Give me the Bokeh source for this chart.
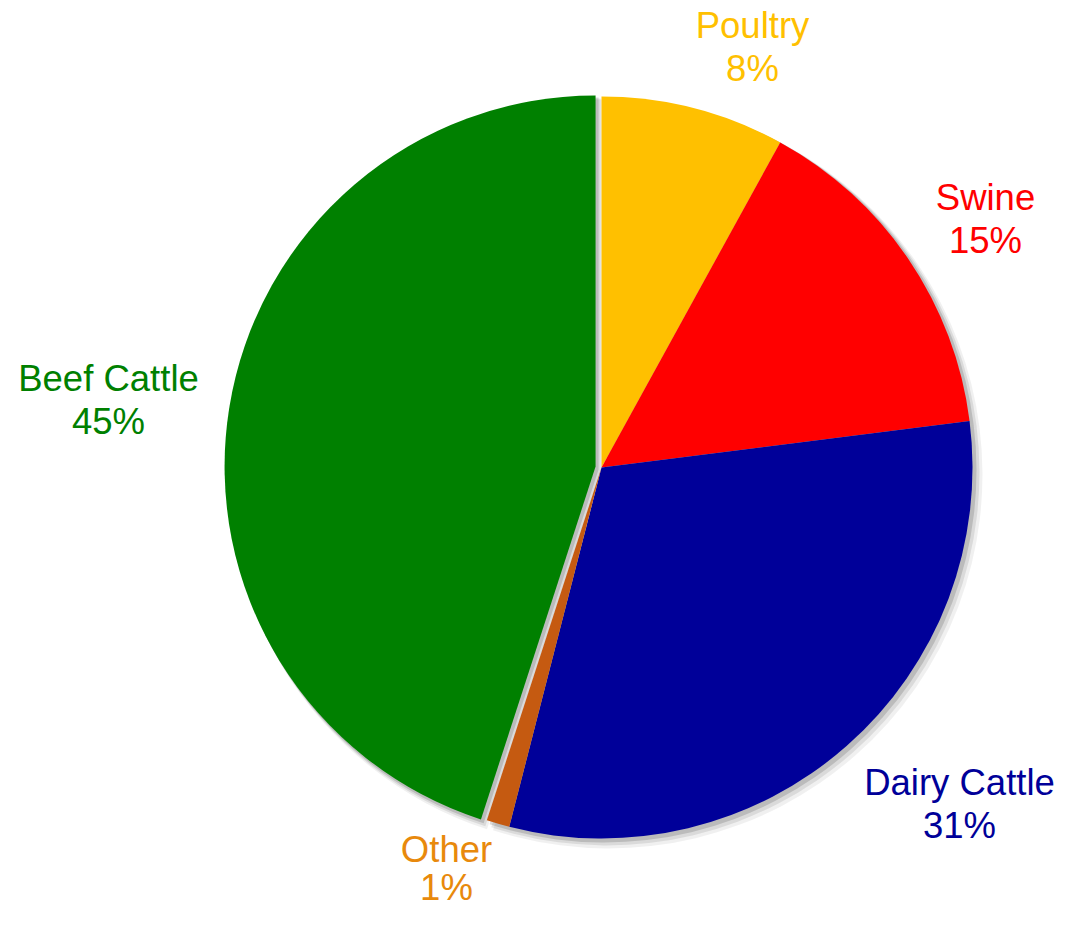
import numpy as np
from bokeh.plotting import figure
from bokeh.models import Range1d, ColumnDataSource
from bokeh.core.properties import value
from bokeh.embed import file_html
from bokeh.resources import INLINE

# ---- data ----
categories = ["Poultry", "Swine", "Dairy Cattle", "Other", "Beef Cattle"]
shares = [8, 15, 31, 1, 45]
pct_labels = ["8%", "15%", "31%", "1%", "45%"]
slice_colors = ["#FFC000", "#FF0000", "#000099", "#C55A11", "#008000"]
text_colors = ["#FFC000", "#FF0000", "#000099", "#E8890C", "#008000"]
exploded = [0, 0, 0, 0, 1]

# ---- layout (screen-like coordinates, y measured upward) ----
W, H = 1060, 911
def sy(y):  # screen y -> data y
    return H - y

cx, cy = 601, sy(467)
R = 371
explode_dist = 6
label_pos = [(752, 25), (985, 197), (959, 782), (446, 849), (108, 378)]
line_gaps = [43, 43, 43, 38, 43]

p = figure(width=W, height=H, output_backend="svg", toolbar_location=None,
           x_range=Range1d(0, W), y_range=Range1d(0, H),
           min_border=0, outline_line_color=None)
p.axis.visible = False
p.grid.visible = False
p.background_fill_color = "white"
p.border_fill_color = "white"

vals = np.array(shares, dtype=float)
frac = vals / vals.sum()
cum = np.concatenate([[0], np.cumsum(frac)])
start = np.pi / 2 - 2 * np.pi * cum[:-1]
end = np.pi / 2 - 2 * np.pi * cum[1:]
mid = (start + end) / 2
xs = cx + explode_dist * np.array(exploded) * np.cos(mid)
ys = cy + explode_dist * np.array(exploded) * np.sin(mid)

src = ColumnDataSource(dict(x=xs, y=ys, start=start, end=end, color=slice_colors))

# soft shadow
for k, (off, a) in enumerate([(7, 0.06), (5, 0.09), (3, 0.14)]):
    sh = ColumnDataSource(dict(x=xs + off, y=ys - off, start=start, end=end))
    p.wedge(x="x", y="y", radius=R + (3 - k), start_angle="start", end_angle="end",
            direction="clock", source=sh, fill_color="black", fill_alpha=a,
            line_color=None, radius_units="screen")

p.wedge(x="x", y="y", radius=R, start_angle="start", end_angle="end",
        direction="clock", source=src, fill_color="color", line_color=None,
        radius_units="screen")

lx = [pt[0] for pt in label_pos]
ly1 = [sy(pt[1]) for pt in label_pos]
ly2 = [sy(pt[1] + g) for pt, g in zip(label_pos, line_gaps)]
p.text(x=lx, y=ly1, text=categories, text_color=text_colors,
       text_font=value("Liberation Sans"), text_font_size="36.5px",
       text_align="center", text_baseline="middle")
p.text(x=lx, y=ly2, text=pct_labels, text_color=text_colors,
       text_font=value("Liberation Sans"), text_font_size="36.5px",
       text_align="center", text_baseline="middle")

open("out.html", "w").write(file_html(p, INLINE))
